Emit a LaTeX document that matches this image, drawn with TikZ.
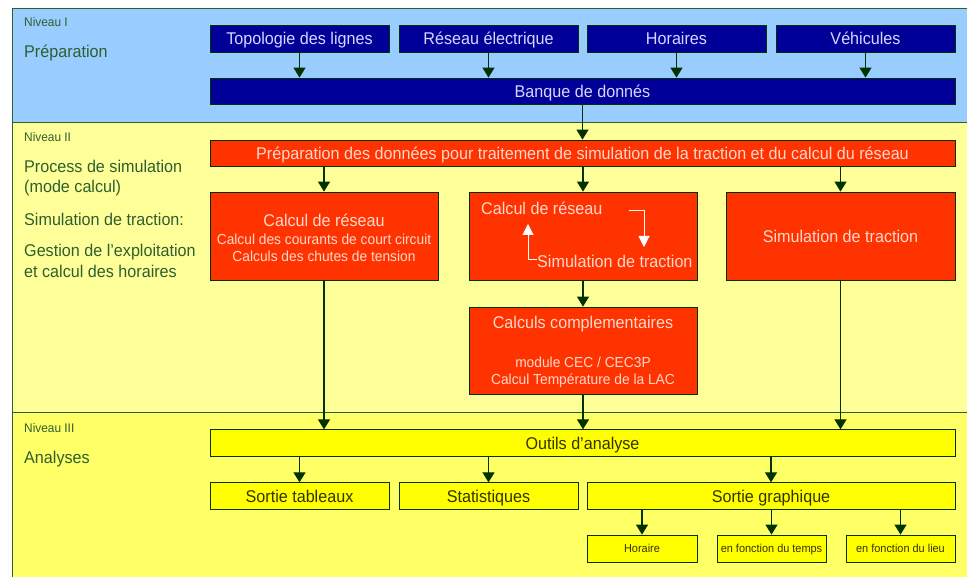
\documentclass[tikz,border=0pt]{standalone}
\usepackage{fontspec}
\setmainfont[FakeStretch=0.95]{Liberation Sans}
\usetikzlibrary{arrows.meta}
\definecolor{bandI}{HTML}{99CCFF}
\definecolor{bandII}{HTML}{FFFF99}
\definecolor{bandIII}{HTML}{FFFF66}
\definecolor{navyb}{HTML}{000099}
\definecolor{redb}{HTML}{FF3300}
\definecolor{yelb}{HTML}{FFFF00}
\definecolor{dgreen}{HTML}{003300}
\definecolor{lgreen}{HTML}{2F5F2F}
\definecolor{navytxt}{HTML}{D6D6FF}
\definecolor{redtxt}{HTML}{FFD8CC}
\definecolor{yeltxt}{HTML}{333300}
\tikzset{
  bigf/.style={font=\fontsize{17}{20}\selectfont},
  medf/.style={font=\fontsize{14.5}{17}\selectfont},
  smallf/.style={font=\fontsize{11.5}{14}\selectfont},
  nivf/.style={font=\fontsize{12.5}{15}\selectfont},
  oneline/.style={text height=12.5pt, text depth=0pt},
  onesmall/.style={text height=7.6pt, text depth=0pt},
  box/.style={draw=dgreen, line width=0.8pt, inner sep=0pt, align=center},
  nv/.style={box, fill=navyb, text=navytxt, bigf, oneline, minimum height=27pt},
  rd/.style={box, fill=redb, text=redtxt},
  yl/.style={box, fill=yelb, text=yeltxt, bigf, oneline, minimum height=26.5pt},
  arr/.style={draw=dgreen, line width=1.2pt, -{Triangle[width=12pt,length=10pt]}},
  warr/.style={draw=white, line width=1pt, -{Triangle[width=11pt,length=11pt]}},
  lbl/.style={anchor=base west, text=lgreen, bigf, inner sep=0pt},
  niv/.style={anchor=base west, text=lgreen, nivf, inner sep=0pt},
  band/.style={draw=lgreen, line width=0.8pt},
}
\begin{document}
\begin{tikzpicture}[x=1pt,y=-1pt]
\useasboundingbox (0,0) rectangle (967,577);
\clip (0,0) rectangle (967,577);
\fill[white] (0,0) rectangle (967,577);
% bands
\filldraw[band, fill=bandI] (12,8) rectangle (975,122);
\filldraw[band, fill=bandII] (12,122) rectangle (975,412);
\filldraw[band, fill=bandIII] (12,412) rectangle (975,590);

% left labels
\node[niv] (n1) at (24,27) {Niveau I};
\node[lbl] (l1) at (24,58) {Préparation};
\node[niv] (n2) at (24,142) {Niveau II};
\node[lbl] (l2a) at (24,173) {Process de simulation};
\node[lbl] (l2b) at (24,193) {(mode calcul)};
\node[lbl] (l2c) at (24,226) {Simulation de traction:};
\node[lbl] (l2d) at (24,257) {Gestion de l’exploitation};
\node[lbl] (l2e) at (24,278) {et calcul des horaires};
\node[niv] (n3) at (24,432) {Niveau III};
\node[lbl] (l3) at (24,463) {Analyses};

% Niveau I
\node[nv, minimum width=179pt] (topo) at (299.5,38.5) {Topologie des lignes};
\node[nv, minimum width=179pt] (resel) at (488.5,38.5) {Réseau électrique};
\node[nv, minimum width=179pt] (hor) at (676.5,38.5) {Horaires};
\node[nv, minimum width=179pt] (veh) at (865.5,38.5) {Véhicules};
\node[nv, minimum width=745pt, minimum height=26pt] (banque) at (582.5,91) {Banque de donnés};

% Niveau II
\node[rd, bigf, oneline, minimum width=745pt, minimum height=26pt] (prep) at (582.5,153) {Préparation des données pour traitement de simulation de la traction et du calcul du réseau};
\node[rd, minimum width=228pt, minimum height=88pt] (calcL) at (324,236) {};
\node[text=redtxt, bigf, inner sep=0pt] (calcLt) at (324,220) {Calcul de réseau};
\node[text=redtxt, medf, inner sep=0pt, align=center] (calcLs) at (324,248) {Calcul des courants de court circuit\\Calculs des chutes de tension};
\node[rd, minimum width=228pt, minimum height=88pt] (calcM) at (583,236) {};
\node[text=redtxt, bigf, inner sep=0pt, anchor=base west] (calcMt) at (481,215) {Calcul de réseau};
\node[text=redtxt, bigf, inner sep=0pt, anchor=base west] (simM) at (537,268) {Simulation de traction};
\coordinate (up1) at (528,224);
\coordinate (dn0) at (629,211);
\coordinate (dn1) at (644,247);
\draw[warr] (simM.west |- 0,260) -| (up1);
\draw[warr] (dn0) -| (dn1);
\node[rd, bigf, oneline, minimum width=229pt, minimum height=88pt] (simR) at (840.5,236) {Simulation de traction};
\node[rd, minimum width=228pt, minimum height=87pt] (comp) at (583,350.5) {};
\node[text=redtxt, bigf, inner sep=0pt] (compt) at (583,324) {Calculs complementaires};
\node[text=redtxt, medf, inner sep=0pt, align=center] (comps) at (583,372.5) {module CEC / CEC3P\\Calcul Température de la LAC};

% Niveau III
\node[yl, minimum width=745pt] (outils) at (582.5,443) {Outils d’analyse};
\node[yl, minimum width=179pt] (sortT) at (299.5,496) {Sortie tableaux};
\node[yl, minimum width=179pt] (stats) at (488.5,496) {Statistiques};
\node[yl, minimum width=368pt] (sortG) at (771,496) {Sortie graphique};
\node[yl, smallf, onesmall, minimum width=110pt, minimum height=27pt] (horaire) at (642,548.5) {Horaire};
\node[yl, smallf, onesmall, minimum width=109pt, minimum height=27pt] (temps) at (771.5,548.5) {en fonction du temps};
\node[yl, smallf, onesmall, minimum width=109pt, minimum height=27pt] (lieu) at (900.5,548.5) {en fonction du lieu};

% connectors
\foreach \b in {topo,resel,hor,veh}
  \draw[arr] (\b.south) -- (\b.south |- banque.north);
\draw[arr] (banque.south) -- (prep.north);
\foreach \b in {calcL,calcM,simR}
  \draw[arr] (\b.north |- prep.south) -- (\b.north);
\draw[arr] (calcM.south) -- (comp.north);
\foreach \b in {calcL,comp,simR}
  \draw[arr] (\b.south) -- (\b.south |- outils.north);
\foreach \b in {sortT,stats,sortG}
  \draw[arr] (\b.north |- outils.south) -- (\b.north);
\foreach \b in {horaire,temps,lieu}
  \draw[arr] (\b.north |- sortG.south) -- (\b.north);
\end{tikzpicture}
\end{document}
